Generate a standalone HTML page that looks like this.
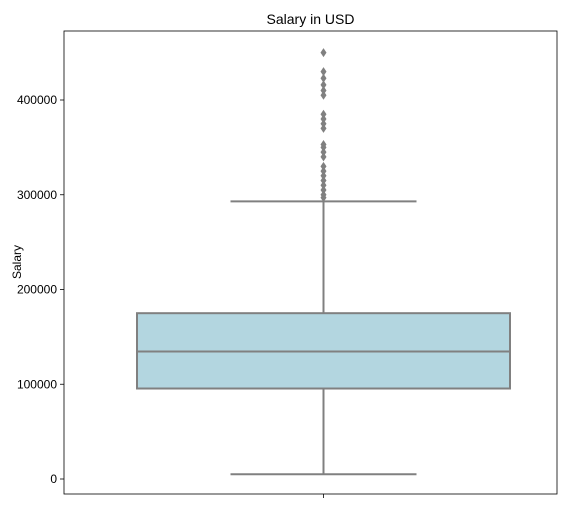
<!DOCTYPE html>
<html><head><meta charset="utf-8"><style>
body{margin:0;background:#fff;font-family:"Liberation Sans","DejaVu Sans",sans-serif;}
</style></head><body>
<svg id="chart" width="566" height="509" xmlns="http://www.w3.org/2000/svg">
<rect x="64" y="31" width="493" height="463" fill="none" stroke="#000" stroke-width="0.8"/>
<text x="310.5" y="24" font-size="14" text-anchor="middle">Salary in USD</text>
<text transform="translate(21,262) rotate(-90)" font-size="12" text-anchor="middle">Salary</text>
<g id="yticks"></g>
<g id="marks"></g>
</svg>
<script>
const yTicks=[0,100000,200000,300000,400000];
const stats=[5000,95500,134500,175000,293000]; // whiskerLow, q1, median, q3, whiskerHigh
const outliers=[450000,430000,423000,416000,410000,405000,385000,380000,375000,370000,353000,350000,345000,340000,330000,325000,320000,315000,310000,305000,300000,297000];
const ns="http://www.w3.org/2000/svg";
const svg=document.getElementById('chart');
function y(v){return 479-v*0.0009475;}
const cx=323.5, bx0=137, bx1=510, gray="#808080";
function mk(tag,attrs,parent){const e=document.createElementNS(ns,tag);for(const k in attrs)e.setAttribute(k,attrs[k]);(parent||svg).appendChild(e);return e;}
const yt=document.getElementById('yticks');
yTicks.forEach(t=>{
  const l=mk('line',{x1:60,x2:64,y1:y(t),y2:y(t),stroke:'#000','stroke-width':0.8},yt);
  
  
  const tx=mk('text',{x:57,y:y(t)+4,'font-size':12,'text-anchor':'end'},yt);
  tx.textContent=t;
  
  
});
const xt=mk('line',{x1:cx,x2:cx,y1:494,y2:498,stroke:'#000','stroke-width':0.8});


const g=document.getElementById('marks');
const [wl,q1,md,q3,wh]=stats;
let e;
e=mk('line',{x1:cx,x2:cx,y1:y(q3),y2:y(wh),stroke:gray,'stroke-width':2},g);


e=mk('line',{x1:cx,x2:cx,y1:y(q1),y2:y(wl),stroke:gray,'stroke-width':2},g);


e=mk('line',{x1:(bx0+bx1)/2-93,x2:(bx0+bx1)/2+93,y1:y(wh),y2:y(wh),stroke:gray,'stroke-width':2},g);


e=mk('line',{x1:(bx0+bx1)/2-93,x2:(bx0+bx1)/2+93,y1:y(wl),y2:y(wl),stroke:gray,'stroke-width':2},g);


e=mk('rect',{x:bx0,y:y(q3),width:bx1-bx0,height:y(q1)-y(q3),fill:'#b3d6e0',stroke:gray,'stroke-width':2},g);


e=mk('line',{x1:bx0,x2:bx1,y1:y(md),y2:y(md),stroke:gray,'stroke-width':2},g);


outliers.forEach(v=>{
  const py=y(v);
  const d=mk('polygon',{points:`${cx},${py-4.5} ${cx+3},${py} ${cx},${py+4.5} ${cx-3},${py}`,fill:gray},g);
  
  
});
</script>
</body></html>
